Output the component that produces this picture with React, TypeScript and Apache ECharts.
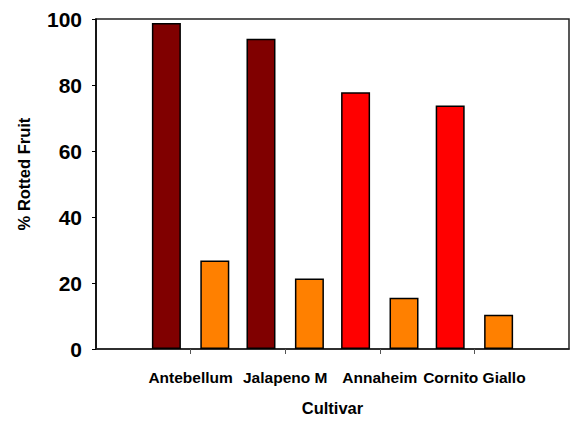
import React, { useEffect, useRef } from "react";
import * as echarts from "echarts";

const categories = ["Antebellum", "Jalapeno M", "Annaheim", "Cornito Giallo"];
const seriesA = [98.8, 94.0, 77.8, 73.8];
const seriesAColors = ["#800000", "#800000", "#FF0000", "#FF0000"];
const seriesB = [26.8, 21.4, 15.5, 10.4];
const seriesBColor = "#FF8000";
const yTicks = [0, 20, 40, 60, 80, 100];

const FONT = "'Liberation Sans', Arial, sans-serif";

export default function App() {
  const ref = useRef<HTMLDivElement>(null);
  useEffect(() => {
    if (!ref.current) return;
    const chart = echarts.init(ref.current, undefined, { renderer: "svg" });
    const axisCats = ["", ...categories, ""];
    const pad = (arr: any[]) => ["-", ...arr, "-"];
    chart.setOption({
      animation: false,
      backgroundColor: "#fff",
      grid: {
        left: 96,
        top: 19,
        right: -5,
        bottom: 66,
        show: true,
        borderColor: "#222",
        borderWidth: 1.5,
      },
      xAxis: {
        type: "category",
        data: axisCats,
        boundaryGap: false,
        name: "Cultivar",
        nameLocation: "middle",
        nameGap: 50,
        nameTextStyle: { fontFamily: FONT, fontWeight: "bold", fontSize: 16.5, color: "#000" },
        axisLine: { lineStyle: { color: "#222", width: 1.5 } },
        axisTick: {
          show: true,
          length: 5,
          inside: false,
          interval: (_i: number, v: string) => v !== "",
          lineStyle: { color: "#555", width: 1 },
        },
        axisLabel: {
          interval: 0,
          margin: 20,
          fontFamily: FONT,
          fontWeight: "bold",
          fontSize: 15.5,
          color: "#000",
        },
        splitLine: { show: false },
      },
      yAxis: {
        type: "value",
        min: yTicks[0],
        max: yTicks[yTicks.length - 1],
        interval: 20,
        axisLine: { show: true, lineStyle: { color: "#000", width: 1.5 } },
        axisTick: { show: true, length: 4, inside: false, lineStyle: { color: "#000", width: 1 } },
        axisLabel: {
          margin: 14,
          fontFamily: FONT,
          fontWeight: "bold",
          fontSize: 21,
          color: "#000",
        },
        splitLine: { show: false },
      },
      graphic: [
        {
          type: "text",
          x: 24,
          y: 174,
          rotation: Math.PI / 2,
          style: {
            text: "% Rotted Fruit",
            fontFamily: FONT,
            fontWeight: "bold",
            fontSize: 16.5,
            fill: "#000",
            textAlign: "center",
            textVerticalAlign: "middle",
          },
        },
      ],
      series: [
        {
          type: "bar",
          barWidth: 29,
          barGap: "67%",
          data: pad(
            seriesA.map((v, i) => ({
              value: v,
              itemStyle: { color: seriesAColors[i] },
            }))
          ),
          itemStyle: { borderColor: "#000", borderWidth: 1.5 },
        },
        {
          type: "bar",
          barWidth: 29,
          barGap: "67%",
          data: pad(seriesB),
          itemStyle: { color: seriesBColor, borderColor: "#000", borderWidth: 1.5 },
        },
      ],
    });
    return () => chart.dispose();
  }, []);
  return (
    <div
      ref={ref}
      style={{ position: "fixed", left: 0, top: 0, width: 572, height: 421, overflow: "hidden" }}
    />
  );
}
